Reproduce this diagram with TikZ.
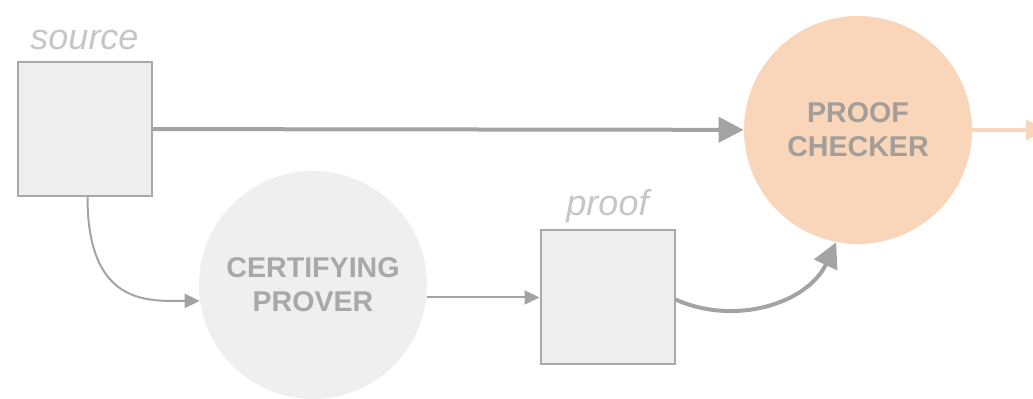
\documentclass[tikz,border=0pt]{standalone}
\usepackage{fontspec}
\setmainfont{Liberation Sans}
\usetikzlibrary{arrows.meta}
\definecolor{boxfill}{HTML}{EEEEEE}
\definecolor{boxline}{HTML}{A9A9A9}
\definecolor{arrowgray}{HTML}{A3A3A3}
\definecolor{labelgray}{HTML}{C6C6C6}
\definecolor{proverfill}{HTML}{EFEFEF}
\definecolor{provertext}{HTML}{A8A8A8}
\definecolor{checkfill}{HTML}{F9D6B9}
\definecolor{checktext}{HTML}{A39E99}
\tikzset{
  artifact/.style={draw=boxline, fill=boxfill, line width=1pt,
    minimum width=67pt, minimum height=67pt, inner sep=0pt},
  agent/.style={circle, inner sep=0pt, align=center,
    font=\fontsize{14.3pt}{17pt}\selectfont\bfseries},
  tag/.style={font=\fontsize{18pt}{20pt}\selectfont\itshape, text=labelgray, anchor=base},
  thinflow/.style={draw=arrowgray, line width=1pt,
    -{Triangle[length=7.5pt,width=7pt]}},
  thickflow/.style={draw=arrowgray, line width=2pt,
    -{Triangle[length=12.5pt,width=12.5pt]}},
  outflow/.style={draw=checkfill, line width=2pt,
    -{Triangle[length=10pt,width=10pt]}}
}
\begin{document}
\begin{tikzpicture}[x=0.5pt, y=-0.5pt]
  \useasboundingbox (0,0) rectangle (1033,399);

  % circles
  \node[agent, fill=checkfill, text=checktext, minimum size=114pt] (checker) at (858,130) {PROOF\\CHECKER};
  \node[agent, fill=proverfill, text=provertext, minimum size=114pt] (prover) at (313,285) {CERTIFYING\\PROVER};

  % artifacts
  \node[artifact] (src) at (84.5,129) {};
  \node[artifact] (proof) at (607.5,297.5) {};
  \node[tag] (srclabel) at ([yshift=5.5pt]src.north) {source};
  \node[tag] (prooflabel) at ([yshift=7pt]proof.north) {proof};

  \coordinate (out) at (1046,130);

  % flows
  \draw[thickflow] (src) -- (checker);
  \draw[thinflow] ([xshift=1.5pt]src.south) .. controls +(0,-55pt) and +(-25pt,0) .. (prover.188);
  \draw[thinflow] (prover.east |- proof.west) -- (proof.west);
  \draw[thickflow] ([yshift=-1pt]proof.east) to[out=-24, in=245] (checker.259);
  \draw[outflow] (checker.east) -- (out);
\end{tikzpicture}
\end{document}
